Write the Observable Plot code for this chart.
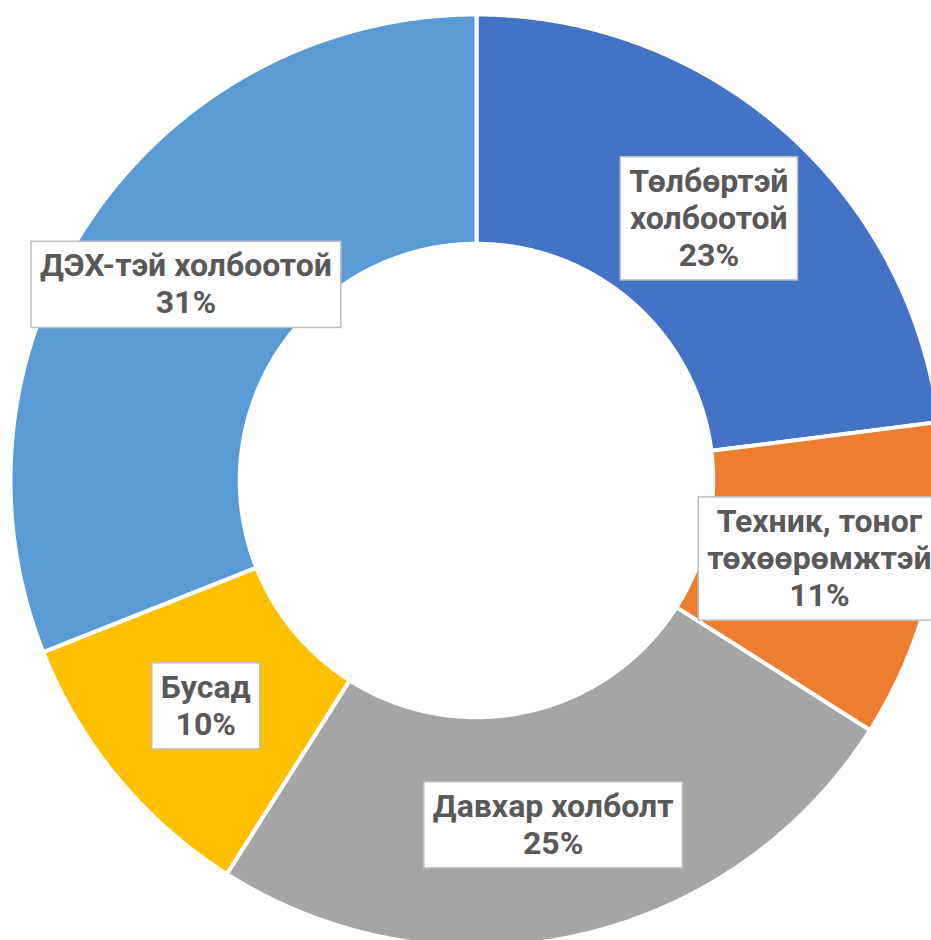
<!DOCTYPE html>
<html>
<head>
<meta charset="utf-8">
<script src="https://cdn.jsdelivr.net/npm/d3@7"></script>
<script src="https://cdn.jsdelivr.net/npm/@observablehq/plot@0.6"></script>
<style>
  html, body { margin: 0; padding: 0; background: #ffffff; overflow: hidden; }
  #chart svg { display: block; overflow: hidden; }
</style>
</head>
<body>
<div id="chart"></div>
<script>
const categories = ["Төлбөртэй холбоотой", "Техник, тоног төхөөрөмжтэй", "Давхар холболт", "Бусад", "ДЭХ-тэй холбоотой"];
const shares = [23, 11, 25, 10, 31];
const labelTexts = ["Төлбөртэй\nхолбоотой\n23%", "Техник, тоног\nтөхөөрөмжтэй\n11%", "Давхар холболт\n25%", "Бусад\n10%", "ДЭХ-тэй холбоотой\n31%"];
const colors = ["#4472C4", "#ED7D31", "#A5A5A5", "#FFC000", "#5B9BD5"];

const innerRatio = 0.508;
const arcs = d3.pie().sort(null).value(d => d)(shares);

// ring polygons built from the pie angles
const ring = [];
arcs.forEach((a, i) => {
  const n = Math.max(8, Math.ceil((a.endAngle - a.startAngle) / 0.005));
  const pts = [];
  for (let k = 0; k <= n; k++) {
    const t = a.startAngle + (a.endAngle - a.startAngle) * k / n;
    pts.push({x: Math.sin(t), y: Math.cos(t)});
  }
  for (let k = n; k >= 0; k--) {
    const t = a.startAngle + (a.endAngle - a.startAngle) * k / n;
    pts.push({x: innerRatio * Math.sin(t), y: innerRatio * Math.cos(t)});
  }
  pts.push(pts[0]);
  pts.forEach(p => ring.push({...p, cat: categories[i]}));
});

const labels = arcs.map((a, i) => {
  const m = (a.startAngle + a.endAngle) / 2;
  const r = (1 + innerRatio) / 2;
  return {x: r * Math.sin(m), y: r * Math.cos(m), text: labelTexts[i]};
});

const plot = Plot.plot({
  width: 931,
  height: 940,
  margin: 0,
  style: {fontFamily: "Roboto, sans-serif", background: "#ffffff"},
  x: {domain: [-1, 1], range: [10, 942], axis: null},
  y: {domain: [-1, 1], range: [946, 14], axis: null},
  color: {domain: categories, range: colors},
  marks: [
    Plot.line(ring, {x: "x", y: "y", z: "cat", fill: "cat", stroke: "#ffffff", strokeWidth: 4, strokeLinejoin: "miter", curve: "linear"}),
    Plot.text(labels, {x: "x", y: "y", text: "text", fontSize: 32, fontWeight: "bold", fill: "#595959", lineHeight: 1.16})
  ]
});

document.getElementById("chart").appendChild(plot);

// white label boxes with grey border, sized from the rendered text
const textGroup = plot.querySelector('g[aria-label="text"]');
if (textGroup) {
  textGroup.querySelectorAll("text").forEach(el => {
    const b = el.getBBox();
    const rect = document.createElementNS("http://www.w3.org/2000/svg", "rect");
    const padX = 9, padTop = 5, padBottom = 6;
    rect.setAttribute("x", b.x - padX);
    rect.setAttribute("y", b.y - padTop);
    rect.setAttribute("width", b.width + 2 * padX);
    rect.setAttribute("height", b.height + padTop + padBottom);
    rect.setAttribute("fill", "#ffffff");
    rect.setAttribute("stroke", "#BFBFBF");
    rect.setAttribute("stroke-width", "1.5");
    const tr = el.getAttribute("transform");
    if (tr) rect.setAttribute("transform", tr);
    textGroup.insertBefore(rect, el);
  });
}
</script>
</body>
</html>
